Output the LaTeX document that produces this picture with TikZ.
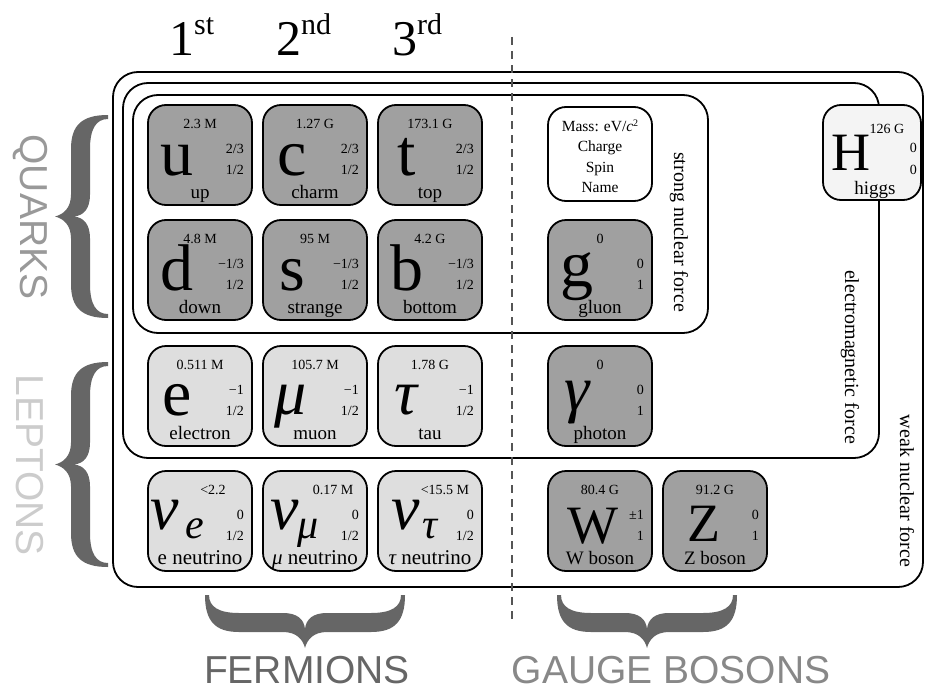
\documentclass[tikz,border=0pt]{standalone}
\usepackage{fontspec}
\setmainfont{Liberation Serif}
\newfontfamily\labelsans{Liberation Sans}
\definecolor{qfill}{HTML}{A0A0A0}
\definecolor{lfill}{HTML}{DEDEDE}
\definecolor{hfill}{HTML}{F4F4F4}
\definecolor{bracecol}{HTML}{666666}
\definecolor{quarkcol}{HTML}{999999}
\definecolor{leptcol}{HTML}{CCCCCC}
\definecolor{fermcol}{HTML}{666666}
\definecolor{gaugecol}{HTML}{888888}
\definecolor{dashcol}{HTML}{555555}
\newcommand\card[9][52]{%
  \begin{scope}[shift={(#3,#4)}]
    \node[cardbox, fill=#5] (#2) at (52,50) {};
    \node[masst] (#2-m) at (#1,23) {#6};
    \node[qnum] (#2-q) at (96,48) {#7};
    \node[qnum] (#2-p) at (96,69) {#8};
    \node[pname] (#2-n) at (52,93) {#9};
  \end{scope}}
\newcommand\bracefill[2]{%
  \fill[bracecol,#2] (0,0) .. controls (0,26) and (10,37) .. (34,37)
   -- ({#1/2-22},37) .. controls ({#1/2-8},37) and ({#1/2-2},45) .. ({#1/2},53)
   .. controls ({#1/2+2},45) and ({#1/2+8},37) .. ({#1/2+22},37)
   -- ({#1-34},37) .. controls ({#1-10},37) and (#1,26) .. (#1,0)
   -- ({#1-4},0) .. controls ({#1-4},12) and ({#1-14},18) .. ({#1-34},18)
   -- ({#1/2+22},18) .. controls ({#1/2+8},18) and ({#1/2+1},24) .. ({#1/2},34)
   .. controls ({#1/2-1},24) and ({#1/2-8},18) .. ({#1/2-22},18)
   -- (34,18) .. controls (14,18) and (4,12) .. (4,0) -- cycle;}
\begin{document}
\begin{tikzpicture}[x=1pt,y=-1pt,
  cardbox/.style={draw, line width=1.8pt, rounded corners=18pt, minimum width=104pt, minimum height=100pt, inner sep=0pt},
  forcebox/.style={draw, line width=1.8pt, rounded corners=25pt},
  masst/.style={font=\fontsize{14}{14}\selectfont, anchor=base, inner sep=0pt},
  qnum/.style={font=\fontsize{14}{14}\selectfont, anchor=base east, inner sep=0pt},
  pname/.style={font=\fontsize{19}{19}\selectfont, anchor=base, inner sep=0pt},
  legtext/.style={font=\fontsize{15.5}{15.5}\selectfont, anchor=base, inner sep=0pt},
  symlow/.style={font=\fontsize{66}{66}\selectfont, anchor=base, inner sep=0pt},
  symcap/.style={font=\fontsize{54}{54}\selectfont, anchor=base, inner sep=0pt},
  symgr/.style={font=\fontsize{64}{64}\selectfont\itshape, anchor=base, inner sep=0pt},
  symnu/.style={font=\fontsize{64}{64}\selectfont\itshape, anchor=base west, inner sep=0pt},
  symsub/.style={font=\fontsize{42}{42}\selectfont\itshape, anchor=base west, inner sep=0pt},
  forcelab/.style={font=\fontsize{20}{20}\selectfont, rotate=-90, inner sep=0pt},
  catlab/.style={font=\labelsans\fontsize{39}{39}\selectfont, inner sep=0pt},
  genlab/.style={font=\fontsize{50}{50}\selectfont, anchor=base west, inner sep=0pt},
  dashline/.style={dashcol, line width=1.5pt, dash pattern=on 8pt off 6pt}
]
\useasboundingbox (0,0) rectangle (928,693);

% force boxes
\draw[forcebox] (113,72) rectangle (923,587);
\draw[forcebox] (123,83) rectangle (879,458);
\draw[forcebox] (133,95) rectangle (708,333);

% dashed separator
\coordinate (dtop) at (512,37);
\coordinate (dbot) at (512,620);
\draw[dashline] (dtop) -- (dbot);

% force labels
\node[forcelab] (strong) at (679,232) {strong nuclear force};
\node[forcelab] (emforce) at (850,357) {electromagnetic force};
\node[forcelab] (weak) at (907,491) {weak nuclear force};

% generation labels
\node[genlab] (gen1) at (169,56) {1\raisebox{21pt}{\fontsize{30}{30}\selectfont st}};
\node[genlab] (gen2) at (276,56) {2\raisebox{21pt}{\fontsize{30}{30}\selectfont nd}};
\node[genlab] (gen3) at (392,56) {3\raisebox{21pt}{\fontsize{30}{30}\selectfont rd}};

% category labels
\node[catlab, text=quarkcol, rotate=-90] (quarks) at (30,217) {QUARKS};
\node[catlab, text=leptcol, rotate=-90] (leptons) at (30,465) {LEPTONS};
\node[catlab, text=fermcol, anchor=base] (fermions) at (307,683) {FERMIONS};
\node[catlab, text=gaugecol, anchor=base] (gauge) at (671,683) {GAUGE BOSONS};

% braces
\bracefill{203}{shift={(108,115)}, rotate=-90}
\bracefill{205}{shift={(108,362)}, rotate=-90}
\bracefill{200}{shift={(205,595)}}
\bracefill{180}{shift={(557,595)}}

% quarks
\card{u}{148}{105}{qfill}{2.3 M}{2/3}{1/2}{up}
\card{c}{263}{105}{qfill}{1.27 G}{2/3}{1/2}{charm}
\card{t}{378}{105}{qfill}{173.1 G}{2/3}{1/2}{top}
\card{d}{148}{220}{qfill}{4.8 M}{−1/3}{1/2}{down}
\card{s}{263}{220}{qfill}{95 M}{−1/3}{1/2}{strange}
\card{b}{378}{220}{qfill}{4.2 G}{−1/3}{1/2}{bottom}
% leptons
\card{e}{148}{346}{lfill}{0.511 M}{−1}{1/2}{electron}
\card{mu}{263}{346}{lfill}{105.7 M}{−1}{1/2}{muon}
\card{tau}{378}{346}{lfill}{1.78 G}{−1}{1/2}{tau}
\card[65]{nue}{148}{471}{lfill}{<2.2}{0}{1/2}{{\fontsize{21}{21}\selectfont e neutrino}}
\card[70]{num}{263}{471}{lfill}{0.17 M}{0}{1/2}{{\fontsize{21}{21}\selectfont{\itshape μ} neutrino}}
\card[67]{nut}{378}{471}{lfill}{<15.5 M}{0}{1/2}{{\fontsize{21}{21}\selectfont{\itshape τ} neutrino}}
% gauge bosons
\card{glu}{548}{220}{qfill}{0}{0}{1}{gluon}
\card{pho}{548}{346}{qfill}{0}{0}{1}{photon}
\card{W}{548}{471}{qfill}{80.4 G}{±1}{1}{W boson}
\card{Z}{663}{471}{qfill}{91.2 G}{0}{1}{Z boson}

% legend card
\node[cardbox, fill=white, minimum height=94pt] (legend) at (600,154) {};
\node[legtext] (leg-m) at (600,131) {Mass: eV/{\itshape c}\raisebox{5pt}{\fontsize{10}{10}\selectfont 2}};
\node[legtext] (leg-q) at (600,151.5) {Charge};
\node[legtext] (leg-s) at (600,172) {Spin};
\node[legtext] (leg-n) at (600,192) {Name};

% higgs card
\node[cardbox, fill=hfill, minimum width=98pt, minimum height=95pt] (H) at (872,152.5) {};
\node[masst] (H-m) at (887,133) {126 G};
\node[qnum] (H-q) at (917,152) {0};
\node[qnum] (H-p) at (917,174) {0};
\node[pname] (H-n) at (875,194) {higgs};

% symbols
\node[symlow] (u-s) at (177,175) {u};
\node[symlow] (c-s) at (292,175) {c};
\node[symlow] (t-s) at (407,175) {t};
\node[symlow] (d-s) at (177,290) {d};
\node[symlow] (s-s) at (292,290) {s};
\node[symlow] (b-s) at (407,290) {b};
\node[symlow] (glu-s) at (577,286) {g};
\node[symlow] (e-s) at (177,415) {e};
\node[symgr] (mu-s) at (291,414) {μ};
\node[symgr] (tau-s) at (406,414) {τ};
\node[symgr] (pho-s) at (577,410) {γ};
\node[symcap] (W-s) at (593,543) {W};
\node[symcap] (Z-s) at (704,541) {Z};
\node[symcap] (H-s) at (851,170) {H};
\node[symnu] (nue-s) at (150,529) {ν};
\node[symsub] (nue-b) at (185,538) {e};
\node[symnu] (num-s) at (270,529) {ν};
\node[symsub] (num-b) at (297,538) {μ};
\node[symnu] (nut-s) at (391,529) {ν};
\node[symsub] (nut-b) at (422,538) {τ};
\end{tikzpicture}
\end{document}
